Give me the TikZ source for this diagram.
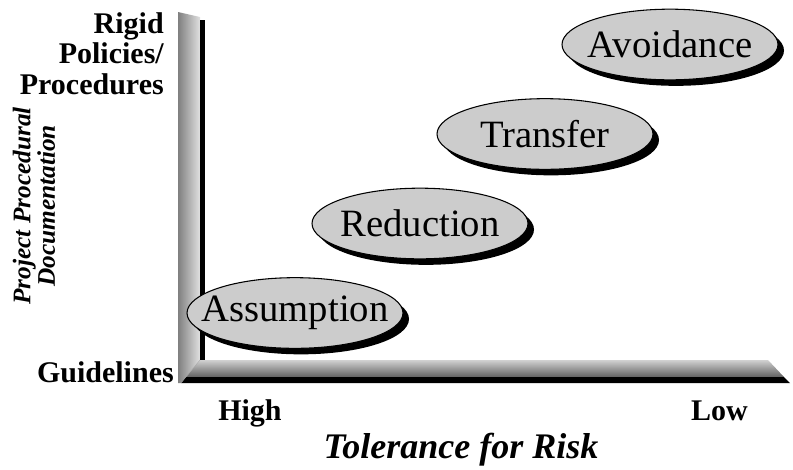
\documentclass[tikz,border=0pt]{standalone}
\usepackage{fontspec}
\setmainfont{Liberation Serif}
\usetikzlibrary{shapes.geometric,shadows}

\begin{document}
\begin{tikzpicture}[x=0.75pt,y=-0.75pt,
  axlab/.style={font=\bfseries\fontsize{22.5}{23}\selectfont,inner sep=0pt},
  phase/.style={ellipse,draw=black,line width=0.8pt,fill=black!20,minimum width=162pt,minimum height=53pt,inner sep=0pt,
    font=\fontsize{29}{34}\selectfont,drop shadow={shadow xshift=4.5pt,shadow yshift=-4.5pt,fill=black,opacity=1}}]
\useasboundingbox (0,0) rectangle (793,469);
% axes: bevelled bars
\shade[left color=black!50,middle color=black!62,right color=black!12] (178,12) -- (200,17) -- (200,360) -- (181,383) -- (178,383) -- cycle;
\fill[black] (200,20) rectangle (205,360);
\shade[top color=black!18,bottom color=black!62] (200,360) -- (768,360) -- (784,377) -- (186,377) -- cycle;
\fill[black] (186,377) -- (784,377) -- (790,383) -- (181,383) -- cycle;
\draw[black!35,line width=0.3pt] (181,383) -- (200,360);
% axis labels
\node[axlab,align=right,anchor=north east] (top) at (164,12) {Rigid\\Policies/\\Procedures};
\node[axlab,anchor=base east] (bot) at (174,382) {Guidelines};
\node[font=\bfseries\itshape\fontsize{19}{17}\selectfont,rotate=90,align=center,inner sep=0pt] (ylab) at (34,206) {Project Procedural\\Documentation};
\node[axlab,anchor=base west] (high) at (218,420) {High};
\node[axlab,anchor=base east] (low) at (748,420) {Low};
\node[font=\bfseries\itshape\fontsize{27}{30}\selectfont,anchor=base,inner sep=0pt] (xlab) at (461,458) {Tolerance for Risk};
% strategies
\node[phase] (assum) at (295,313) {\makebox[0pt]{Assumption}};
\node[phase] (reduc) at (420,223.5) {\makebox[0pt]{Reduction}};
\node[phase] (transf) at (545,134) {\makebox[0pt]{Transfer}};
\node[phase] (avoid) at (670,44.5) {\makebox[0pt]{Avoidance}};
\end{tikzpicture}
\end{document}
